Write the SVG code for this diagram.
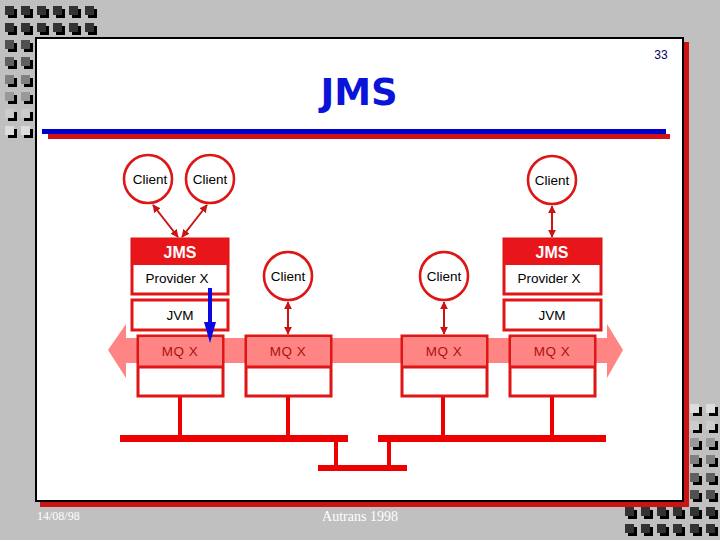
<svg xmlns="http://www.w3.org/2000/svg" width="720" height="540" viewBox="0 0 720 540">
<style>
.sh{fill:#000}
.lbl{font-family:"Liberation Sans",Arial,sans-serif;font-size:13.5px;text-anchor:middle;fill:#000}
.mq{font-family:"Liberation Sans",Arial,sans-serif;font-size:13.5px;text-anchor:middle;fill:#b01010;letter-spacing:0.5px}
.cl{fill:#fff;stroke:#dd1515;stroke-width:2.6}
.box{fill:#fff;stroke:#e01515;stroke-width:3}
.bus{fill:#ee0000}
.con{stroke:#c81414;stroke-width:2;fill:none}
.foot{font-family:"Liberation Serif","Times New Roman",serif;fill:#fff}
</style>
<defs>
<marker id="ah" viewBox="0 0 10 10" refX="9" refY="5" markerWidth="8" markerHeight="8" markerUnits="userSpaceOnUse" orient="auto-start-reverse">
<path d="M0,0 L10,5 L0,10 z" fill="#c81414"/>
</marker>
</defs>
<rect width="720" height="540" fill="#c0c0c0"/>
<g id="deco-tl">
<g fill="#000">
<rect x="8" y="9" width="9" height="9"/><rect x="24" y="9" width="9" height="9"/><rect x="40" y="9" width="9" height="9"/><rect x="56" y="9" width="9" height="9"/><rect x="72" y="9" width="9" height="9"/><rect x="88" y="9" width="9" height="9"/>
<rect x="8" y="26" width="9" height="9"/><rect x="24" y="26" width="9" height="9"/><rect x="40" y="26" width="9" height="9"/><rect x="56" y="26" width="9" height="9"/><rect x="72" y="26" width="9" height="9"/><rect x="88" y="26" width="9" height="9"/>
<rect x="8" y="43" width="9" height="9"/><rect x="24" y="43" width="9" height="9"/>
<rect x="8" y="60" width="9" height="9"/><rect x="24" y="60" width="9" height="9"/>
<rect x="8" y="78" width="9" height="9"/><rect x="24" y="78" width="9" height="9"/>
<rect x="8" y="95" width="9" height="9"/><rect x="24" y="95" width="9" height="9"/>
<rect x="8" y="112" width="9" height="9"/><rect x="24" y="112" width="9" height="9"/>
<rect x="8" y="129" width="9" height="9"/><rect x="24" y="129" width="9" height="9"/>
</g>
<g fill="#333">
<rect x="5" y="6" width="9" height="9"/><rect x="21" y="6" width="9" height="9"/><rect x="37" y="6" width="9" height="9"/><rect x="53" y="6" width="9" height="9"/><rect x="69" y="6" width="9" height="9"/><rect x="85" y="6" width="9" height="9"/>
<rect x="5" y="23" width="9" height="9"/><rect x="21" y="23" width="9" height="9"/><rect x="37" y="23" width="9" height="9"/><rect x="53" y="23" width="9" height="9"/><rect x="69" y="23" width="9" height="9"/><rect x="85" y="23" width="9" height="9"/>
</g>
<rect x="5" y="40" width="9" height="9" fill="#505050"/><rect x="21" y="40" width="9" height="9" fill="#505050"/>
<rect x="5" y="57" width="9" height="9" fill="#606060"/><rect x="21" y="57" width="9" height="9" fill="#606060"/>
<rect x="5" y="75" width="9" height="9" fill="#808080"/><rect x="21" y="75" width="9" height="9" fill="#808080"/>
<rect x="5" y="92" width="9" height="9" fill="#999"/><rect x="21" y="92" width="9" height="9" fill="#999"/>
<rect x="5" y="109" width="9" height="9" fill="#ccc"/><rect x="21" y="109" width="9" height="9" fill="#ccc"/>
<rect x="5" y="126" width="9" height="9" fill="#ddd"/><rect x="21" y="126" width="9" height="9" fill="#ddd"/>
</g>
<g id="slide">
<rect x="40" y="42" width="649" height="465" fill="#cc1414"/>
<rect x="36" y="38" width="647" height="463" fill="#fff" stroke="#000" stroke-width="2"/>
<text x="661" y="59" font-family="'Liberation Sans Narrow','Liberation Sans',Arial,sans-serif" font-size="12" fill="#000060" text-anchor="middle">33</text>
<text x="359" y="105" font-family="'DejaVu Sans',sans-serif" font-weight="bold" font-size="37" fill="#0a14d8" text-anchor="middle">JMS</text>
<rect x="42" y="129" width="624" height="5" fill="#0000cc"/>
<rect x="48" y="134" width="622" height="5" fill="#d01414"/>
</g>
<g id="deco-br">
<g fill="#000">
<rect x="628" y="510" width="9" height="9"/><rect x="644" y="510" width="9" height="9"/><rect x="660" y="510" width="9" height="9"/><rect x="676" y="510" width="9" height="9"/><rect x="693" y="510" width="9" height="9"/><rect x="709" y="510" width="9" height="9"/>
<rect x="628" y="527" width="9" height="9"/><rect x="644" y="527" width="9" height="9"/><rect x="660" y="527" width="9" height="9"/><rect x="676" y="527" width="9" height="9"/><rect x="693" y="527" width="9" height="9"/><rect x="709" y="527" width="9" height="9"/>
<rect x="693" y="407" width="9" height="9"/><rect x="709" y="407" width="9" height="9"/>
<rect x="693" y="424" width="9" height="9"/><rect x="709" y="424" width="9" height="9"/>
<rect x="693" y="441" width="9" height="9"/><rect x="709" y="441" width="9" height="9"/>
<rect x="693" y="458" width="9" height="9"/><rect x="709" y="458" width="9" height="9"/>
<rect x="693" y="476" width="9" height="9"/><rect x="709" y="476" width="9" height="9"/>
<rect x="693" y="493" width="9" height="9"/><rect x="709" y="493" width="9" height="9"/>
</g>
<g fill="#333">
<rect x="625" y="507" width="9" height="9"/><rect x="641" y="507" width="9" height="9"/><rect x="657" y="507" width="9" height="9"/><rect x="673" y="507" width="9" height="9"/><rect x="690" y="507" width="9" height="9"/><rect x="706" y="507" width="9" height="9"/>
<rect x="625" y="524" width="9" height="9"/><rect x="641" y="524" width="9" height="9"/><rect x="657" y="524" width="9" height="9"/><rect x="673" y="524" width="9" height="9"/><rect x="690" y="524" width="9" height="9"/><rect x="706" y="524" width="9" height="9"/>
</g>
<rect x="690" y="404" width="9" height="9" fill="#ddd"/><rect x="706" y="404" width="9" height="9" fill="#ddd"/>
<rect x="690" y="421" width="9" height="9" fill="#ccc"/><rect x="706" y="421" width="9" height="9" fill="#ccc"/>
<rect x="690" y="438" width="9" height="9" fill="#999"/><rect x="706" y="438" width="9" height="9" fill="#999"/>
<rect x="690" y="455" width="9" height="9" fill="#808080"/><rect x="706" y="455" width="9" height="9" fill="#808080"/>
<rect x="690" y="473" width="9" height="9" fill="#606060"/><rect x="706" y="473" width="9" height="9" fill="#606060"/>
<rect x="690" y="490" width="9" height="9" fill="#505050"/><rect x="706" y="490" width="9" height="9" fill="#505050"/>
</g>
<g id="band">
<polygon points="108,350 126,324 126,338 607,338 607,324 623,350 607,378 607,363 126,363 126,378" fill="#ff8484"/>
</g>
<g id="bus">
<rect class="bus" x="178" y="396" width="4" height="40"/>
<rect class="bus" x="286" y="396" width="4" height="40"/>
<rect class="bus" x="441" y="396" width="4" height="40"/>
<rect class="bus" x="550" y="396" width="4" height="40"/>
<rect class="bus" x="120" y="435" width="228" height="7"/>
<rect class="bus" x="378" y="435" width="228" height="7"/>
<rect class="bus" x="334" y="442" width="4" height="24"/>
<rect class="bus" x="387" y="442" width="4" height="24"/>
<rect class="bus" x="318" y="465" width="89" height="6"/>
</g>
<g id="mq1">
<rect class="box" x="138" y="336" width="85" height="60"/>
<rect x="139.5" y="337.5" width="82" height="29" fill="#ff8484"/>
<line x1="138" y1="367" x2="223" y2="367" stroke="#e01515" stroke-width="3"/>
<text class="mq" x="180" y="356">MQ X</text>
</g>
<g id="mq2">
<rect class="box" x="246" y="336" width="85" height="60"/>
<rect x="247.5" y="337.5" width="82" height="29" fill="#ff8484"/>
<line x1="246" y1="367" x2="331" y2="367" stroke="#e01515" stroke-width="3"/>
<text class="mq" x="288" y="356">MQ X</text>
</g>
<g id="mq3">
<rect class="box" x="402" y="336" width="85" height="60"/>
<rect x="403.5" y="337.5" width="82" height="29" fill="#ff8484"/>
<line x1="402" y1="367" x2="487" y2="367" stroke="#e01515" stroke-width="3"/>
<text class="mq" x="444" y="356">MQ X</text>
</g>
<g id="mq4">
<rect class="box" x="510" y="336" width="85" height="60"/>
<rect x="511.5" y="337.5" width="82" height="29" fill="#ff8484"/>
<line x1="510" y1="367" x2="595" y2="367" stroke="#e01515" stroke-width="3"/>
<text class="mq" x="552" y="356">MQ X</text>
</g>
<g id="jms-left">
<rect class="box" x="132" y="239" width="96" height="55"/>
<rect x="132" y="239" width="96" height="26" fill="#e8161b"/>
<text x="180" y="258" font-family="'Liberation Sans',Arial,sans-serif" font-weight="bold" font-size="16" fill="#fff" text-anchor="middle">JMS</text>
<text class="lbl" x="177" y="283">Provider X</text>
</g>
<g id="jvm-left">
<rect class="box" x="132" y="300" width="96" height="30"/>
<text class="lbl" x="180" y="320">JVM</text>
</g>
<g id="jms-right">
<rect class="box" x="504" y="239" width="97" height="55"/>
<rect x="504" y="239" width="97" height="26" fill="#e8161b"/>
<text x="552" y="258" font-family="'Liberation Sans',Arial,sans-serif" font-weight="bold" font-size="16" fill="#fff" text-anchor="middle">JMS</text>
<text class="lbl" x="549" y="283">Provider X</text>
</g>
<g id="jvm-right">
<rect class="box" x="504" y="300" width="97" height="30"/>
<text class="lbl" x="552" y="320">JVM</text>
</g>
<g id="client1"><circle class="cl" cx="148" cy="179" r="24"/><text class="lbl" x="150" y="184">Client</text></g>
<g id="client2"><circle class="cl" cx="210" cy="179" r="24"/><text class="lbl" x="210" y="184">Client</text></g>
<g id="client3"><circle class="cl" cx="552" cy="180" r="24"/><text class="lbl" x="552" y="185">Client</text></g>
<g id="client4"><circle class="cl" cx="288" cy="276" r="24"/><text class="lbl" x="288" y="281">Client</text></g>
<g id="client5"><circle class="cl" cx="444" cy="276" r="24"/><text class="lbl" x="444" y="281">Client</text></g>
<g id="connectors">
<line class="con" x1="153" y1="205" x2="178" y2="237" marker-start="url(#ah)" marker-end="url(#ah)"/>
<line class="con" x1="207" y1="205" x2="182" y2="237" marker-start="url(#ah)" marker-end="url(#ah)"/>
<line class="con" x1="552" y1="206" x2="552" y2="237" marker-start="url(#ah)" marker-end="url(#ah)"/>
<line class="con" x1="288" y1="302" x2="288" y2="334" marker-start="url(#ah)" marker-end="url(#ah)"/>
<line class="con" x1="444" y1="302" x2="444" y2="334" marker-start="url(#ah)" marker-end="url(#ah)"/>
<line x1="210" y1="288" x2="210" y2="326" stroke="#0a0ae0" stroke-width="4"/>
<polygon points="204,322 216,322 210,343" fill="#0a0ae0"/>
</g>
<g id="footer">
<text class="foot" x="37" y="520" font-size="12">14/08/98</text>
<text class="foot" x="360" y="521" font-size="14" text-anchor="middle">Autrans 1998</text>
</g>
</svg>
